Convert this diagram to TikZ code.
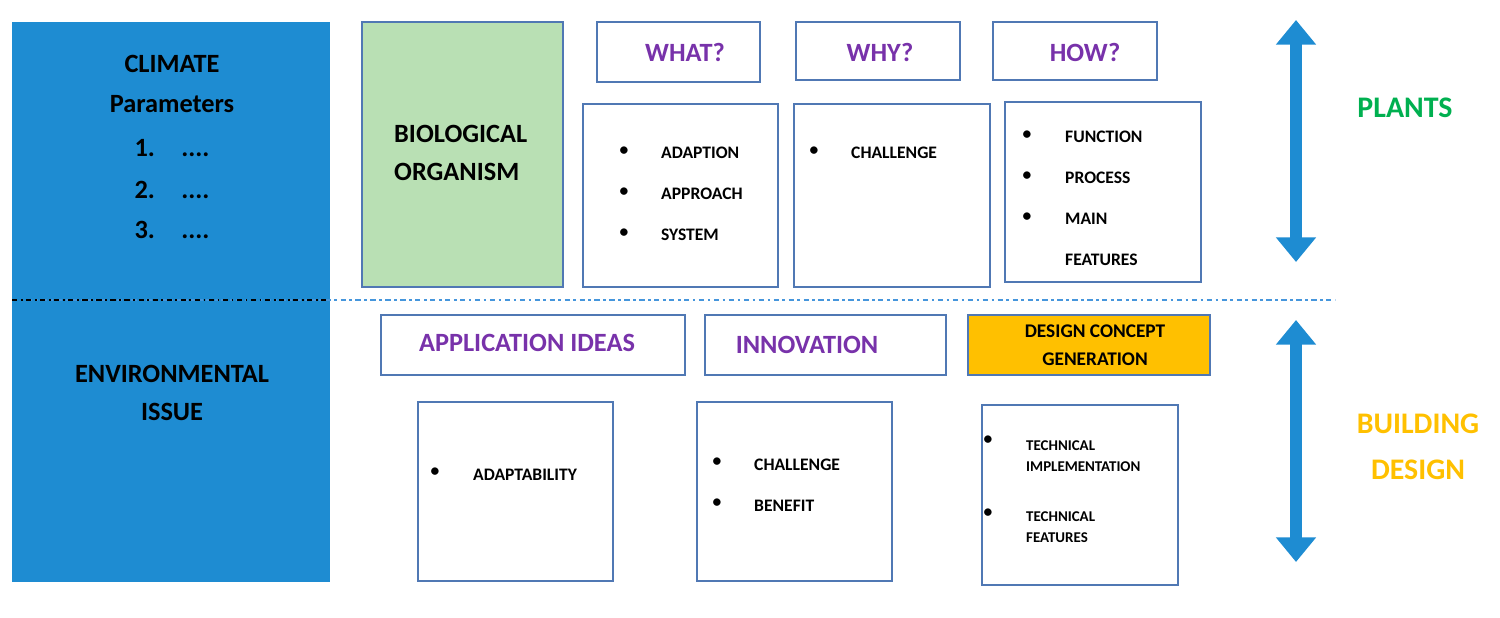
\documentclass[tikz,border=0pt]{standalone}
\usepackage{fontspec}
\setmainfont{Carlito}
\usetikzlibrary{arrows.meta}
\definecolor{myblue}{RGB}{30,140,210}
\definecolor{lineblue}{RGB}{70,150,220}
\definecolor{mygreen}{RGB}{185,224,180}
\definecolor{mypurple}{RGB}{120,50,170}
\definecolor{myorange}{RGB}{255,192,0}
\definecolor{plantgreen}{RGB}{0,176,80}
\definecolor{frame}{RGB}{80,120,180}
\tikzset{
 px/.style={x=0.02cm,y=-0.02cm},
 boxc/.style={draw=frame,line width=0.8pt,fill=white},
 head/.style={boxc,font=\bfseries\fontsize{15}{18}\selectfont,text=mypurple},
 item/.style={font=\bfseries\fontsize{10}{12}\selectfont,anchor=west},
 blt/.style={font=\bfseries\fontsize{10}{12}\selectfont,anchor=center},
 bt/.style={font=\bfseries\fontsize{15}{18}\selectfont},
 darr/.style={myblue,line width=7pt,{Triangle[width=22pt,length=14pt]}-{Triangle[width=22pt,length=14pt]}}
}
\begin{document}
\begin{tikzpicture}[px]
\useasboundingbox (0,0) rectangle (1500,618);
\fill[myblue] (12,22) rectangle (330,582);
\draw[lineblue,line width=1.5pt,dash dot] (12,300) -- (1335,300);
\draw[black,line width=1pt,dash dot] (12,300) -- (330,300);
\node[bt] (c1) at (172,64) {CLIMATE};
\node[bt] (c2) at (172,104) {Parameters};
\node[bt] (c3) at (172,148) {1.\quad ....};
\node[bt] (c4) at (172,190) {2.\quad ....};
\node[bt] (c5) at (172,230) {3.\quad ....};
\node[bt] (e1) at (172,374) {ENVIRONMENTAL};
\node[bt] (e2) at (172,412) {ISSUE};
\draw[frame,fill=mygreen,line width=0.8pt] (362,22) rectangle (563,287);
\node[bt,anchor=west,align=left] (bio) at (388,153) {BIOLOGICAL\\[4pt]ORGANISM};
\draw[boxc] (597,22) rectangle (760,82); \node[head,draw=none,fill=none] (what) at (685,52) {WHAT?};
\draw[boxc] (796,22) rectangle (960,80); \node[head,draw=none,fill=none] (why) at (880,52) {WHY?};
\draw[boxc] (993,22) rectangle (1157,80); \node[head,draw=none,fill=none] (how) at (1085,52) {HOW?};
\draw[boxc] (583,104) rectangle (778,287);
\draw[boxc] (794,104) rectangle (990,287);
\draw[boxc] (1005,102) rectangle (1201,282);
\foreach \y/\t [count=\i] in {153/ADAPTION,194/APPROACH,235/SYSTEM}{
 \node[blt] (wb\i) at (624,\y-2) {•}; \node[item] (wt\i) at (655,\y) {\t};}
\node[blt] (yb1) at (814,151) {•}; \node[item] (yt1) at (845,153) {CHALLENGE};
\foreach \y/\t [count=\i] in {137/FUNCTION,178/PROCESS,219/MAIN,260/FEATURES}{
 \node[item] (ht\i) at (1059,\y) {\t};}
\foreach \y [count=\i] in {135,176,217}{\node[blt] (hb\i) at (1027,\y) {•};}
\draw[boxc] (381,315) rectangle (685,375); \node[head,draw=none,fill=none] (app) at (527,343) {APPLICATION IDEAS};
\draw[boxc] (705,315) rectangle (946,375); \node[head,draw=none,fill=none] (inn) at (807,345) {INNOVATION};
\draw[frame,fill=myorange,line width=0.8pt] (968,315) rectangle (1210,375);
\node[align=center,font=\bfseries\fontsize{11}{16}\selectfont] (dc) at (1095,345) {DESIGN CONCEPT\\GENERATION};
\draw[boxc] (418,402) rectangle (613,581);
\draw[boxc] (697,402) rectangle (892,581);
\draw[boxc] (982,405) rectangle (1178,585);
\node[blt] (ab) at (435,472) {•}; \node[item] (at) at (467,475) {ADAPTABILITY};
\node[blt] (ib1) at (717,462) {•}; \node[item] (it1) at (748,465) {CHALLENGE};
\node[blt] (ib2) at (717,503) {•}; \node[item] (it2) at (748,506) {BENEFIT};
\node[blt] (tb1) at (988,440) {•}; \node[blt] (tb2) at (988,513) {•};
\node[item,align=left,font=\bfseries\fontsize{8.5}{12}\selectfont] (tt1) at (1020,456) {TECHNICAL\\IMPLEMENTATION};
\node[item,align=left,font=\bfseries\fontsize{8.5}{12}\selectfont] (tt2) at (1020,527) {TECHNICAL\\FEATURES};
\coordinate (a1) at (1296,20); \coordinate (a2) at (1296,262);
\coordinate (a3) at (1296,320); \coordinate (a4) at (1296,562);
\draw[darr] (a1) -- (a2);
\draw[darr] (a3) -- (a4);
\node[bt,text=plantgreen,font=\bfseries\fontsize{17}{20}\selectfont] (pl) at (1405,108) {PLANTS};
\node[bt,text=myorange,align=center,font=\bfseries\fontsize{17}{26}\selectfont] (bd) at (1418,447) {BUILDING\\DESIGN};
\end{tikzpicture}
\end{document}
